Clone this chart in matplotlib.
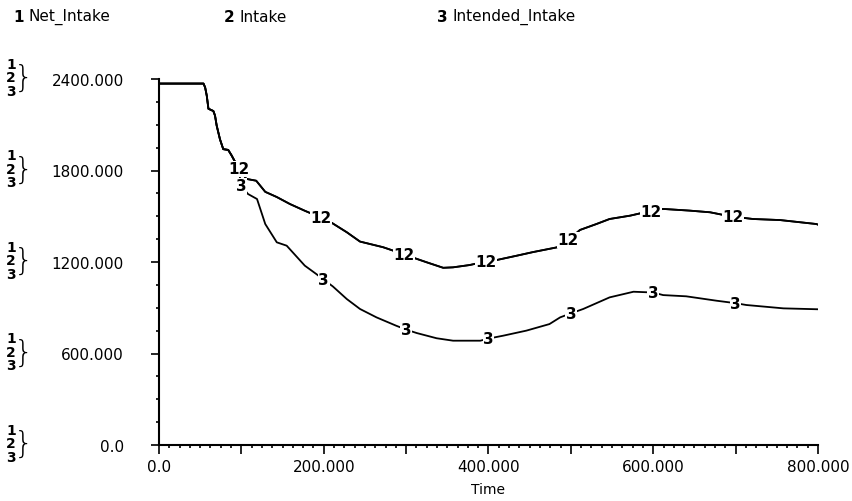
import numpy as np
import matplotlib
matplotlib.use('Agg')
import matplotlib.pyplot as plt
from matplotlib.ticker import FixedLocator, MultipleLocator
from matplotlib.transforms import offset_copy

# time points and values
t12 = [0, 54, 56, 58, 60, 66, 68, 70, 74, 78, 84, 88, 92, 96, 100, 106, 118,
       129, 143, 159, 177, 195, 210, 228, 244, 272, 295, 311, 325, 345, 357,
       377, 394, 410, 434, 454, 483, 496, 511, 531, 547, 572, 593, 612, 644,
       669, 693, 721, 754, 798, 800]
net_intake = [2370, 2370, 2345, 2290, 2205, 2190, 2160, 2095, 2005, 1940,
              1935, 1900, 1860, 1820, 1790, 1745, 1733, 1660, 1626, 1580,
              1536, 1495, 1456, 1395, 1334, 1297, 1255, 1224, 1198, 1162,
              1165, 1180, 1200, 1213, 1241, 1265, 1296, 1340, 1410, 1449,
              1482, 1504, 1530, 1548, 1537, 1526, 1500, 1482, 1475, 1449, 1445]
intake = list(net_intake)

t3 = [0, 54, 56, 58, 60, 66, 68, 70, 74, 78, 84, 88, 92, 96, 100, 108, 119,
      129, 143, 155, 177, 191, 201, 211, 228, 244, 264, 288, 301, 313, 337,
      357, 390, 402, 418, 446, 474, 487, 501, 515, 547, 576, 600, 612, 640,
      677, 700, 713, 758, 800]
intended_intake = [2370, 2370, 2345, 2290, 2205, 2190, 2160, 2095, 2005, 1940,
                   1935, 1900, 1860, 1820, 1700, 1646, 1613, 1449, 1329, 1307,
                   1176, 1121, 1080, 1040, 957, 892, 837, 782, 755, 734, 700,
                   684, 684, 700, 717, 750, 793, 837, 865, 892, 968, 1005,
                   1000, 983, 975, 946, 930, 918, 896, 890]

yticks = [0, 600, 1200, 1800, 2400]
ytick_labels = ['0.0', '600.000', '1200.000', '1800.000', '2400.000']
xticks = [0, 100, 200, 300, 400, 500, 600, 700, 800]
xtick_labels = ['0.0', '', '200.000', '', '400.000', '', '600.000', '', '800.000']
label_times = [100, 200, 300, 400, 500, 600, 700]
legend_names = ['Net_Intake', 'Intake', 'Intended_Intake']

plt.rcParams['font.family'] = ['DejaVu Sans']

fig = plt.figure(figsize=(8.53, 5.02), dpi=100)
ax = fig.add_axes([159/853, 56/502, 659/853, 366/502])

ax.plot(t12, net_intake, color='black', lw=1.3)
ax.plot(t12, intake, color='black', lw=1.3)
ax.plot(t3, intended_intake, color='black', lw=1.3)

# curve number labels sitting on the lines
for lt in label_times:
    ax.text(lt - 3, np.interp(lt - 3, t12, net_intake), '12', fontsize=11,
            fontweight='bold', ha='center', va='center',
            bbox=dict(facecolor='white', edgecolor='none', pad=0.3))
    ax.text(lt, np.interp(lt, t3, intended_intake), '3', fontsize=11,
            fontweight='bold', ha='center', va='center',
            bbox=dict(facecolor='white', edgecolor='none', pad=0.3))

ax.set_xlim(0, 800)
ax.set_ylim(0, 2400)

for s in ['top', 'right']:
    ax.spines[s].set_visible(False)
for s in ['left', 'bottom']:
    ax.spines[s].set_linewidth(1.5)

ax.xaxis.set_major_locator(FixedLocator(xticks))
ax.set_xticklabels(xtick_labels)
ax.xaxis.set_minor_locator(MultipleLocator(12.5))
ax.set_yticks(yticks, labels=ytick_labels)
ax.yaxis.set_minor_locator(MultipleLocator(150))

ax.tick_params(axis='x', which='major', direction='out', length=6.5, width=1.2,
               pad=3.5, labelsize=11)
ax.tick_params(axis='x', which='minor', direction='out', length=2.5, width=1.2)
ax.tick_params(axis='y', which='major', direction='out', length=5.8, width=1.2,
               pad=19.5, labelsize=11)
ax.tick_params(axis='y', which='minor', direction='out', length=2.2, width=1.2)

ax.set_xlabel('Time', fontsize=10, labelpad=6)

# the "1 2 3 }" markers to the left of each y tick
trans = ax.get_yaxis_transform()
xs = (11 - 159) / 659
xb = (24 - 159) / 659
for v in yticks:
    for k, dy in enumerate([13, 3.3, -6.5]):
        tr = offset_copy(trans, fig=fig, y=dy - 2, units='points')
        ax.text(xs, v, str(k + 1), transform=tr, fontsize=10,
                fontweight='bold', ha='center', va='center', clip_on=False)
    tr = offset_copy(trans, fig=fig, y=1, units='points')
    ax.text(xb, v, '}', transform=tr, fontsize=22, fontweight='light',
            ha='center', va='center', clip_on=False)

# header legend
for k, (name, x0) in enumerate(zip(legend_names, [13, 224, 437])):
    fig.text(x0/853, 1 - 17/502, str(k + 1), fontsize=11, fontweight='bold',
             va='center')
    fig.text((x0 + 16)/853, 1 - 17/502, name, fontsize=11, va='center')

fig.savefig('out.png', dpi=100)
